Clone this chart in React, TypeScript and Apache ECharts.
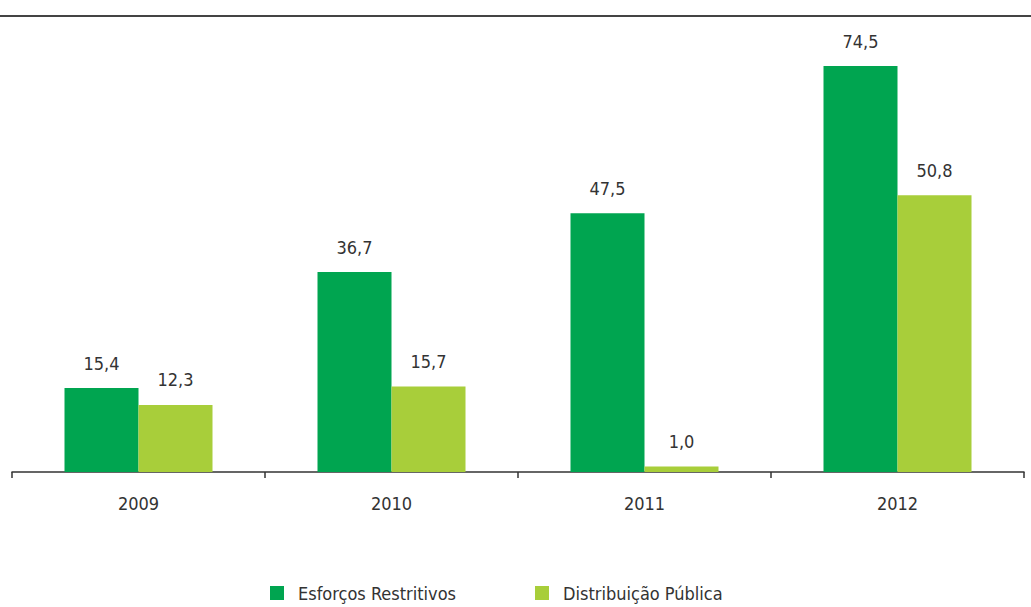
import React, { useEffect, useRef } from "react";
import * as echarts from "echarts";

const categories = ["2009", "2010", "2011", "2012"];
const esforcos = [15.4, 36.7, 47.5, 74.5];
const distribuicao = [12.3, 15.7, 1.0, 50.8];
const seriesNames = ["Esforços Restritivos", "Distribuição Pública"];

const FONT = "'DejaVu Sans Condensed', 'DejaVu Sans', sans-serif";
const fmt = (p: any) => Number(p.value).toFixed(1).replace(".", ",");

export default function App() {
  const ref = useRef<HTMLDivElement>(null);
  useEffect(() => {
    if (!ref.current) return;
    const chart = echarts.init(ref.current, undefined, { renderer: "svg" });
    chart.setOption({
      animation: false,
      textStyle: { fontFamily: FONT },
      grid: { left: 12, right: 7, top: 16, bottom: 135 },
      legend: {
        data: seriesNames,
        left: 265,
        top: 579,
        icon: "rect",
        itemWidth: 14,
        itemHeight: 14,
        itemGap: 79,
        textStyle: { fontFamily: FONT, fontSize: 18, color: "#333", padding: [0, 0, 0, 9] },
      },
      graphic: [
        {
          type: "line",
          shape: { x1: 0, y1: 16, x2: 1031, y2: 16 },
          style: { stroke: "#444", lineWidth: 2 },
        },
      ],
      xAxis: {
        type: "category",
        data: categories,
        axisLine: { lineStyle: { color: "#333", width: 1.5 } },
        axisTick: { show: true, length: 6, lineStyle: { color: "#333", width: 1.5 } },
        axisLabel: { fontFamily: FONT, fontSize: 18, color: "#333", margin: 22 },
      },
      yAxis: {
        type: "value",
        min: 0,
        max: 83.7,
        show: false,
        splitLine: { show: false },
      },
      series: [
        {
          name: seriesNames[0],
          type: "bar",
          data: esforcos,
          barWidth: 74,
          barGap: "0%",
          itemStyle: { color: "#00A550" },
          label: { show: true, position: "top", distance: 16, formatter: fmt, fontFamily: FONT, fontSize: 18, color: "#333" },
        },
        {
          name: seriesNames[1],
          type: "bar",
          data: distribuicao,
          barWidth: 74,
          barGap: "0%",
          itemStyle: { color: "#A8CE3A" },
          label: { show: true, position: "top", distance: 16, formatter: fmt, fontFamily: FONT, fontSize: 18, color: "#333" },
        },
      ],
    });
    return () => chart.dispose();
  }, []);
  return <div ref={ref} style={{ width: 1031, height: 607, position: "absolute", left: 0, top: 0 }} />;
}
